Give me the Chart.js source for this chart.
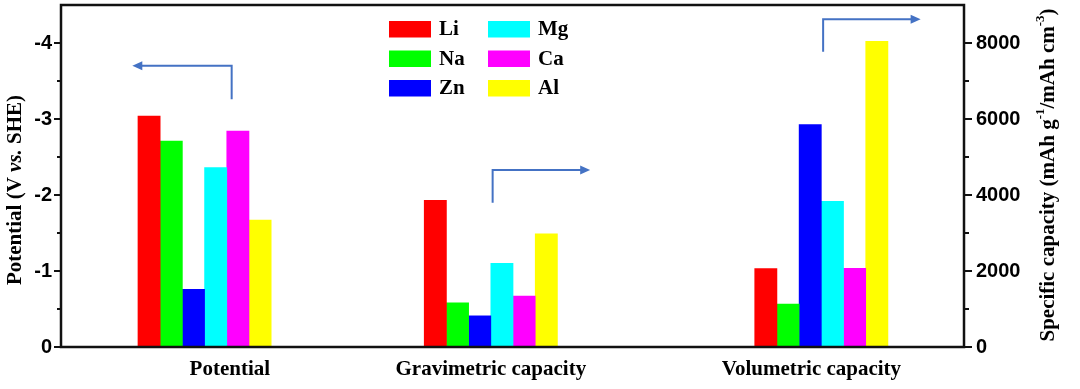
<!DOCTYPE html>
<html lang="en">
  <head>
    <meta charset="UTF-8" />
    <title>Metal anodes: potential and capacity</title>
    <script src="https://cdn.jsdelivr.net/npm/chart.js@4"></script>
    <style>
      body {
        margin: 0;
        background: #ffffff;
      }
      #wrap {
        width: 1080px;
        height: 389px;
        position: relative;
      }
    </style>
  </head>
  <body>
    <div id="wrap">
      <canvas id="metalChart"></canvas>
    </div>
    <script>
      // categories and values
      const metals = ['Li', 'Na', 'Zn', 'Mg', 'Ca', 'Al']
      const groups = ['Potential', 'Gravimetric capacity', 'Volumetric capacity']
      const potential = [-3.04, -2.71, -0.76, -2.36, -2.84, -1.67] // V vs. SHE
      const gravimetric = [3860, 1165, 820, 2205, 1340, 2980] // mAh g-1
      const volumetric = [2062, 1128, 5851, 3833, 2073, 8046] // mAh cm-3
      const leftTicks = [0, -1, -2, -3, -4]
      const rightTicks = [0, 2000, 4000, 6000, 8000]

      const colors = ['#ff0000', '#00ff00', '#0000ff', '#00ffff', '#ff00ff', '#ffff00']
      // where the groups and their labels sit on the (hidden) x axis, 0..10
      const groupPos = [1.59, 4.76, 8.42]
      const labelPos = [1.87, 4.76, 8.31]
      // pointer arrows: [x0, y0, y1 (corner), xTip] in axis units
      const arrows = [
        { axis: 'yL', pts: [1.89, -3.26, -3.7, 0.79] },
        { axis: 'yR', pts: [4.78, 3797, 4658, 5.86] },
        { axis: 'yR', pts: [8.44, 7771, 8624, 9.52] }
      ]

      const serif = "'Liberation Serif', 'Times New Roman', serif"
      const sans = "'Liberation Sans', Arial, sans-serif"

      const datasets = []
      metals.forEach((m, i) => {
        datasets.push({
          label: m,
          stack: m,
          yAxisID: 'yL',
          backgroundColor: colors[i],
          data: [{ x: groupPos[0], y: potential[i] }]
        })
      })
      metals.forEach((m, i) => {
        datasets.push({
          label: m + ' capacity',
          stack: m,
          yAxisID: 'yR',
          backgroundColor: colors[i],
          data: [
            { x: groupPos[1], y: gravimetric[i] },
            { x: groupPos[2], y: volumetric[i] }
          ]
        })
      })

      // text along a rotated line, with mixed fonts (italic, superscripts)
      function drawRotated(ctx, parts, cx, cy) {
        ctx.save()
        ctx.translate(cx, cy)
        ctx.rotate(-Math.PI / 2)
        ctx.textBaseline = 'middle'
        ctx.textAlign = 'left'
        ctx.fillStyle = '#000'
        let total = 0
        parts.forEach(p => {
          ctx.font = p.font
          total += ctx.measureText(p.text).width
        })
        let pos = -total / 2
        parts.forEach(p => {
          ctx.font = p.font
          ctx.fillText(p.text, pos, p.dy || 0)
          pos += ctx.measureText(p.text).width
        })
        ctx.restore()
      }

      // keep the plot box where the figure has it
      function noEdgePadding(s) {
        s.paddingTop = 0
        s.paddingBottom = 0
        s.paddingLeft = 0
        s.paddingRight = 0
      }

      const extras = {
        id: 'extras',
        afterDraw(chart) {
          const ctx = chart.ctx
          const a = chart.chartArea
          const sx = chart.scales.x
          const yL = chart.scales.yL
          const yR = chart.scales.yR
          ctx.save()

          // frame
          ctx.strokeStyle = '#111'
          ctx.lineWidth = 2.5
          ctx.strokeRect(a.left, a.top, a.right - a.left, a.bottom - a.top)

          // tick marks, major and minor
          ctx.lineWidth = 2
          ctx.beginPath()
          for (let v = 0; v > -4.5; v -= 0.5) {
            const py = yL.getPixelForValue(v)
            const len = Number.isInteger(v) ? 7 : 4
            ctx.moveTo(a.left - len, py)
            ctx.lineTo(a.left, py)
          }
          for (let v = 0; v < 9000; v += 1000) {
            const py = yR.getPixelForValue(v)
            const len = v % 2000 === 0 ? 8 : 5
            ctx.moveTo(a.right, py)
            ctx.lineTo(a.right + len, py)
          }
          ctx.stroke()

          // blue pointer arrows
          ctx.strokeStyle = '#4472c4'
          ctx.fillStyle = '#4472c4'
          ctx.lineWidth = 2
          arrows.forEach(ar => {
            const ys = chart.scales[ar.axis]
            const x0 = sx.getPixelForValue(ar.pts[0])
            const y0 = ys.getPixelForValue(ar.pts[1])
            const y1 = ys.getPixelForValue(ar.pts[2])
            const xt = sx.getPixelForValue(ar.pts[3])
            const dir = xt > x0 ? 1 : -1
            ctx.beginPath()
            ctx.moveTo(x0, y0)
            ctx.lineTo(x0, y1)
            ctx.lineTo(xt - dir * 8, y1)
            ctx.stroke()
            ctx.beginPath()
            ctx.moveTo(xt, y1)
            ctx.lineTo(xt - dir * 10, y1 - 4.5)
            ctx.lineTo(xt - dir * 10, y1 + 4.5)
            ctx.closePath()
            ctx.fill()
          })

          // legend, two columns of three
          ctx.font = 'bold 21px ' + serif
          ctx.textBaseline = 'middle'
          ctx.textAlign = 'left'
          metals.forEach((m, i) => {
            const col = Math.floor(i / 3)
            const row = i % 3
            const bx = col === 0 ? 389 : 488
            const by = 21 + row * 29.5
            ctx.fillStyle = colors[i]
            ctx.fillRect(bx, by, 42, 16.5)
            ctx.fillStyle = '#000'
            ctx.fillText(m, bx + 50, by + 9)
          })

          // axis titles
          const bold = 'bold 21px ' + serif
          drawRotated(ctx, [
            { text: 'Potential (V ', font: bold },
            { text: 'vs.', font: 'italic bold 21px ' + serif },
            { text: ' SHE)', font: bold }
          ], 16, 190)
          const sup = 'bold 13px ' + serif
          drawRotated(ctx, [
            { text: 'Specific capacity (mAh g', font: bold },
            { text: '-1', font: sup, dy: -8 },
            { text: '/mAh cm', font: bold },
            { text: '-3', font: sup, dy: -8 },
            { text: ')', font: bold }
          ], 1049, 175)

          ctx.restore()
        }
      }

      new Chart(document.getElementById('metalChart'), {
        type: 'bar',
        data: { datasets },
        plugins: [extras],
        options: {
          responsive: true,
          maintainAspectRatio: false,
          animation: false,
          barThickness: 22.2,
          layout: { padding: { top: 5, left: 0, right: 0, bottom: 0 } },
          plugins: {
            legend: { display: false },
            tooltip: { enabled: false }
          },
          scales: {
            x: {
              type: 'linear',
              stacked: true,
              offset: false,
              min: 0,
              max: 10,
              grid: { display: false, drawTicks: false, offset: false },
              border: { display: false },
              afterBuildTicks: s => {
                s.ticks = labelPos.map(v => ({ value: v }))
              },
              afterFit: s => {
                s.height = 42
                noEdgePadding(s)
              },
              ticks: {
                autoSkip: false,
                maxRotation: 0,
                padding: 10,
                color: '#000',
                font: { family: serif, size: 21, weight: 'bold' },
                callback: (v, i) => groups[i]
              }
            },
            yL: {
              type: 'linear',
              position: 'left',
              reverse: true,
              stacked: false,
              min: -4.5,
              max: 0,
              grid: { display: false, drawTicks: false, tickLength: 0 },
              border: { display: false },
              afterBuildTicks: s => {
                s.ticks = leftTicks.map(v => ({ value: v }))
              },
              afterFit: s => {
                s.width = 61
                noEdgePadding(s)
              },
              ticks: {
                padding: 9,
                color: '#000',
                font: { family: sans, size: 20, weight: 'bold' },
                callback: v => String(v)
              }
            },
            yR: {
              type: 'linear',
              position: 'right',
              stacked: false,
              min: 0,
              max: 9000,
              grid: { display: false, drawTicks: false, tickLength: 0 },
              border: { display: false },
              afterBuildTicks: s => {
                s.ticks = rightTicks.map(v => ({ value: v }))
              },
              afterFit: s => {
                s.width = 116
                noEdgePadding(s)
              },
              ticks: {
                padding: 12,
                color: '#000',
                font: { family: sans, size: 20, weight: 'bold' },
                callback: v => String(v)
              }
            }
          }
        }
      })
    </script>
  </body>
</html>
